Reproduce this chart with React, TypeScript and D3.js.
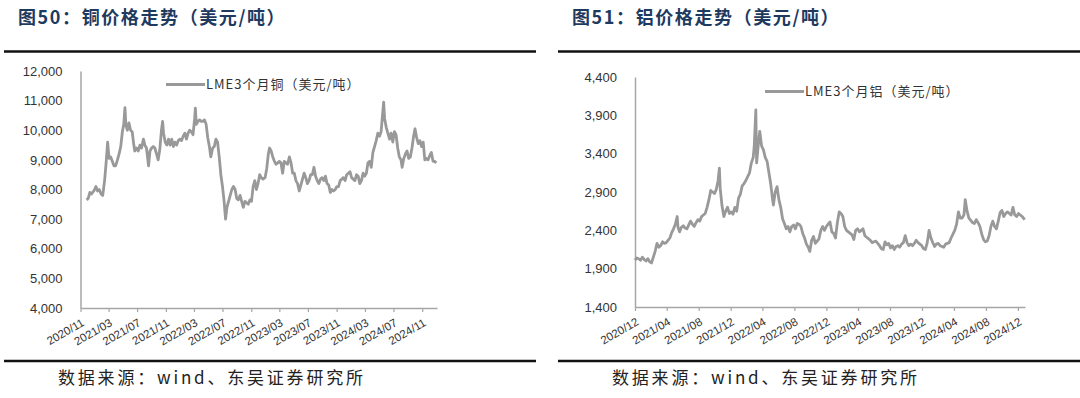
import React, { useRef, useEffect } from 'react';
import * as d3 from 'd3';

// text
const copperTitle = '图50：铜价格走势（美元/吨）';
const aluminumTitle = '图51：铝价格走势（美元/吨）';
const copperLegend = 'LME3个月铜（美元/吨）';
const aluminumLegend = 'LME3个月铝（美元/吨）';
const sourceNote = '数据来源：wind、东吴证券研究所';

// axis ticks
const copperXTicks = ['2020/11', '2021/03', '2021/07', '2021/11', '2022/03', '2022/07', '2022/11',
  '2023/03', '2023/07', '2023/11', '2024/03', '2024/07', '2024/11'];
const copperYTicks = [4000, 5000, 6000, 7000, 8000, 9000, 10000, 11000, 12000];
const aluminumXTicks = ['2020/12', '2021/04', '2021/08', '2021/12', '2022/04', '2022/08', '2022/12',
  '2023/04', '2023/08', '2023/12', '2024/04', '2024/08', '2024/12'];
const aluminumYTicks = [1400, 1900, 2400, 2900, 3400, 3900, 4400];

// LME 3M copper, USD/t
const copperSeries: [string, number][] = [
  ['2020-11-27', 7650], ['2020-12-04', 7700], ['2020-12-11', 7900], ['2020-12-18', 7850], ['2020-12-28', 7950],
  ['2021-01-06', 8100], ['2021-01-13', 7950], ['2021-01-20', 8000], ['2021-01-28', 7850], ['2021-02-04', 7800],
  ['2021-02-12', 8300], ['2021-02-19', 8950], ['2021-02-25', 9600], ['2021-03-03', 9050], ['2021-03-10', 9100],
  ['2021-03-17', 8950], ['2021-03-24', 8800], ['2021-03-31', 8800], ['2021-04-08', 9000], ['2021-04-15', 9200],
  ['2021-04-22', 9450], ['2021-04-29', 9950], ['2021-05-05', 10200], ['2021-05-10', 10760], ['2021-05-14', 10200],
  ['2021-05-20', 10000], ['2021-05-27', 10250], ['2021-06-03', 10000], ['2021-06-10', 9950], ['2021-06-17', 9500],
  ['2021-06-21', 9300], ['2021-06-28', 9400], ['2021-07-06', 9300], ['2021-07-13', 9500], ['2021-07-20', 9400],
  ['2021-07-28', 9700], ['2021-08-03', 9500], ['2021-08-10', 9400], ['2021-08-19', 8800], ['2021-08-25', 9300],
  ['2021-09-01', 9400], ['2021-09-08', 9450], ['2021-09-15', 9400], ['2021-09-22', 9200], ['2021-09-29', 9000],
  ['2021-10-06', 9350], ['2021-10-13', 10000], ['2021-10-18', 10300], ['2021-10-22', 9900], ['2021-10-29', 9600],
  ['2021-11-05', 9500], ['2021-11-12', 9700], ['2021-11-19', 9500], ['2021-11-26', 9700], ['2021-12-03', 9450],
  ['2021-12-10', 9600], ['2021-12-17', 9500], ['2021-12-24', 9650], ['2021-12-31', 9700], ['2022-01-07', 9650],
  ['2022-01-14', 9800], ['2022-01-21', 9900], ['2022-01-28', 9700], ['2022-02-04', 9900], ['2022-02-11', 10000],
  ['2022-02-18', 9950], ['2022-02-25', 9850], ['2022-03-04', 10400], ['2022-03-07', 10750], ['2022-03-11', 10200],
  ['2022-03-18', 10300], ['2022-03-25', 10350], ['2022-04-01', 10300], ['2022-04-08', 10300], ['2022-04-15', 10350],
  ['2022-04-22', 10200], ['2022-04-29', 9750], ['2022-05-06', 9450], ['2022-05-12', 9100], ['2022-05-20', 9400],
  ['2022-05-27', 9450], ['2022-06-03', 9700], ['2022-06-10', 9600], ['2022-06-17', 9100], ['2022-06-24', 8500],
  ['2022-07-01', 8100], ['2022-07-08', 7600], ['2022-07-14', 7000], ['2022-07-20', 7400], ['2022-07-27', 7600],
  ['2022-08-03', 7800], ['2022-08-10', 8000], ['2022-08-17', 8100], ['2022-08-24', 8000], ['2022-08-31', 7700],
  ['2022-09-07', 7650], ['2022-09-14', 7800], ['2022-09-21', 7600], ['2022-09-28', 7400], ['2022-10-05', 7600],
  ['2022-10-12', 7550], ['2022-10-19', 7500], ['2022-10-26', 7650], ['2022-11-02', 7600], ['2022-11-09', 8100],
  ['2022-11-16', 8300], ['2022-11-23', 8000], ['2022-11-30', 8200], ['2022-12-07', 8500], ['2022-12-14', 8400],
  ['2022-12-21', 8350], ['2022-12-30', 8400], ['2023-01-06', 8700], ['2023-01-13', 9200], ['2023-01-18', 9400],
  ['2023-01-25', 9300], ['2023-02-01', 9100], ['2023-02-08', 8950], ['2023-02-15', 8850], ['2023-02-22', 8900],
  ['2023-03-01', 8950], ['2023-03-08', 8900], ['2023-03-15', 8550], ['2023-03-22', 8950], ['2023-03-29', 8900],
  ['2023-04-05', 8850], ['2023-04-13', 9100], ['2023-04-20', 8900], ['2023-04-27', 8550], ['2023-05-04', 8550],
  ['2023-05-11', 8300], ['2023-05-18', 8200], ['2023-05-25', 7950], ['2023-06-01', 8150], ['2023-06-08', 8350],
  ['2023-06-15', 8550], ['2023-06-22', 8400], ['2023-06-29', 8200], ['2023-07-06', 8300], ['2023-07-13', 8500],
  ['2023-07-20', 8500], ['2023-07-27', 8750], ['2023-08-03', 8450], ['2023-08-10', 8300], ['2023-08-17', 8200],
  ['2023-08-24', 8350], ['2023-08-31', 8400], ['2023-09-07', 8300], ['2023-09-14', 8450], ['2023-09-21', 8200],
  ['2023-09-28', 8150], ['2023-10-05', 7900], ['2023-10-12', 8000], ['2023-10-19', 7950], ['2023-10-26', 8000],
  ['2023-11-02', 8100], ['2023-11-09', 8100], ['2023-11-16', 8300], ['2023-11-23', 8350], ['2023-11-30', 8400],
  ['2023-12-07', 8300], ['2023-12-14', 8500], ['2023-12-21', 8550], ['2023-12-28', 8600], ['2024-01-04', 8400],
  ['2024-01-11', 8350], ['2024-01-18', 8300], ['2024-01-25', 8500], ['2024-02-01', 8450], ['2024-02-08', 8200],
  ['2024-02-15', 8300], ['2024-02-22', 8550], ['2024-02-29', 8450], ['2024-03-07', 8550], ['2024-03-14', 8900],
  ['2024-03-21', 8950], ['2024-03-28', 8750], ['2024-04-04', 9250], ['2024-04-11', 9450], ['2024-04-18', 9650],
  ['2024-04-25', 9900], ['2024-05-02', 9800], ['2024-05-09', 9950], ['2024-05-15', 10500], ['2024-05-20', 10950],
  ['2024-05-24', 10400], ['2024-05-31', 10100], ['2024-06-07', 9900], ['2024-06-14', 9700], ['2024-06-21', 9900],
  ['2024-06-28', 9600], ['2024-07-05', 9950], ['2024-07-12', 9850], ['2024-07-19', 9400], ['2024-07-26', 9100],
  ['2024-08-02', 9000], ['2024-08-07', 8750], ['2024-08-14', 9050], ['2024-08-21', 9200], ['2024-08-28', 9300],
  ['2024-09-04', 9050], ['2024-09-11', 9100], ['2024-09-18', 9400], ['2024-09-25', 9800], ['2024-10-01', 10050],
  ['2024-10-08', 9750], ['2024-10-15', 9550], ['2024-10-22', 9650], ['2024-10-29', 9450], ['2024-11-05', 9600],
  ['2024-11-12', 9000], ['2024-11-19', 9050], ['2024-11-26', 9000], ['2024-12-03', 9150], ['2024-12-10', 9250],
  ['2024-12-17', 8950], ['2024-12-24', 8950], ['2024-12-31', 8900],
];

// LME 3M aluminium, USD/t
const aluminumSeries: [string, number][] = [
  ['2020-12-01', 2010], ['2020-12-08', 2040], ['2020-12-15', 2030], ['2020-12-22', 2010], ['2020-12-29', 2050],
  ['2021-01-05', 2020], ['2021-01-12', 2000], ['2021-01-19', 2030], ['2021-01-26', 1990], ['2021-02-02', 1975],
  ['2021-02-09', 2050], ['2021-02-16', 2130], ['2021-02-23', 2230], ['2021-03-02', 2180], ['2021-03-09', 2200],
  ['2021-03-16', 2250], ['2021-03-23', 2230], ['2021-03-30', 2240], ['2021-04-06', 2270], ['2021-04-13', 2300],
  ['2021-04-20', 2370], ['2021-04-27', 2420], ['2021-05-04', 2480], ['2021-05-11', 2580], ['2021-05-14', 2440],
  ['2021-05-20', 2380], ['2021-05-27', 2440], ['2021-06-03', 2460], ['2021-06-10', 2430], ['2021-06-17', 2420],
  ['2021-06-24', 2470], ['2021-07-01', 2520], ['2021-07-08', 2480], ['2021-07-15', 2450], ['2021-07-22', 2500],
  ['2021-07-29', 2540], ['2021-08-05', 2520], ['2021-08-12', 2580], ['2021-08-19', 2600], ['2021-08-26', 2620],
  ['2021-09-02', 2700], ['2021-09-09', 2800], ['2021-09-16', 2920], ['2021-09-23', 2900], ['2021-09-30', 2880],
  ['2021-10-07', 2930], ['2021-10-14', 3050], ['2021-10-19', 3210], ['2021-10-22', 2950], ['2021-10-29', 2720],
  ['2021-11-05', 2580], ['2021-11-12', 2650], ['2021-11-19', 2700], ['2021-11-26', 2620], ['2021-12-03', 2640],
  ['2021-12-10', 2610], ['2021-12-17', 2700], ['2021-12-24', 2650], ['2021-12-31', 2820], ['2022-01-07', 2870],
  ['2022-01-14', 2980], ['2022-01-21', 3010], ['2022-01-28', 3050], ['2022-02-04', 3100], ['2022-02-11', 3150],
  ['2022-02-18', 3280], ['2022-02-25', 3350], ['2022-03-01', 3500], ['2022-03-07', 3970], ['2022-03-10', 3280],
  ['2022-03-16', 3500], ['2022-03-22', 3690], ['2022-03-29', 3500], ['2022-04-05', 3450], ['2022-04-12', 3350],
  ['2022-04-19', 3300], ['2022-04-26', 3150], ['2022-05-03', 3000], ['2022-05-10', 2800], ['2022-05-13', 2730],
  ['2022-05-20', 2900], ['2022-05-27', 2970], ['2022-06-03', 2800], ['2022-06-10', 2700], ['2022-06-17', 2550],
  ['2022-06-24', 2490], ['2022-07-01', 2420], ['2022-07-08', 2450], ['2022-07-15', 2380], ['2022-07-22', 2450],
  ['2022-07-29', 2470], ['2022-08-05', 2420], ['2022-08-12', 2490], ['2022-08-19', 2480], ['2022-08-26', 2450],
  ['2022-09-02', 2360], ['2022-09-09', 2300], ['2022-09-16', 2220], ['2022-09-23', 2180], ['2022-09-29', 2125],
  ['2022-10-06', 2270], ['2022-10-13', 2320], ['2022-10-20', 2230], ['2022-10-27', 2260], ['2022-11-03', 2290],
  ['2022-11-10', 2400], ['2022-11-17', 2450], ['2022-11-24', 2400], ['2022-12-01', 2450], ['2022-12-08', 2480],
  ['2022-12-15', 2510], ['2022-12-22', 2380], ['2022-12-29', 2360], ['2023-01-05', 2300], ['2023-01-12', 2500],
  ['2023-01-19', 2640], ['2023-01-26', 2620], ['2023-02-02', 2580], ['2023-02-09', 2450], ['2023-02-16', 2400],
  ['2023-02-23', 2380], ['2023-03-02', 2360], ['2023-03-09', 2340], ['2023-03-16', 2280], ['2023-03-23', 2400],
  ['2023-03-30', 2420], ['2023-04-06', 2380], ['2023-04-13', 2400], ['2023-04-20', 2420], ['2023-04-27', 2330],
  ['2023-05-04', 2310], ['2023-05-11', 2290], ['2023-05-18', 2270], ['2023-05-25', 2240], ['2023-06-01', 2250],
  ['2023-06-08', 2260], ['2023-06-15', 2230], ['2023-06-22', 2200], ['2023-06-29', 2160], ['2023-07-06', 2150],
  ['2023-07-13', 2250], ['2023-07-20', 2210], ['2023-07-27', 2230], ['2023-08-03', 2170], ['2023-08-10', 2200],
  ['2023-08-17', 2150], ['2023-08-24', 2190], ['2023-08-31', 2200], ['2023-09-07', 2180], ['2023-09-14', 2220],
  ['2023-09-21', 2240], ['2023-09-28', 2330], ['2023-10-05', 2240], ['2023-10-12', 2200], ['2023-10-19', 2220],
  ['2023-10-26', 2200], ['2023-11-02', 2230], ['2023-11-09', 2270], ['2023-11-16', 2240], ['2023-11-23', 2220],
  ['2023-11-30', 2200], ['2023-12-07', 2160], ['2023-12-14', 2150], ['2023-12-21', 2240], ['2023-12-28', 2400],
  ['2024-01-04', 2300], ['2024-01-11', 2240], ['2024-01-18', 2190], ['2024-01-25', 2220], ['2024-02-01', 2230],
  ['2024-02-08', 2200], ['2024-02-15', 2190], ['2024-02-22', 2180], ['2024-02-29', 2220], ['2024-03-07', 2230],
  ['2024-03-14', 2240], ['2024-03-21', 2300], ['2024-03-28', 2350], ['2024-04-04', 2400], ['2024-04-11', 2480],
  ['2024-04-18', 2640], ['2024-04-25', 2560], ['2024-05-02', 2560], ['2024-05-09', 2600], ['2024-05-14', 2800],
  ['2024-05-21', 2650], ['2024-05-28', 2560], ['2024-06-04', 2530], ['2024-06-11', 2500], ['2024-06-18', 2490],
  ['2024-06-25', 2540], ['2024-07-02', 2500], ['2024-07-09', 2450], ['2024-07-16', 2350], ['2024-07-23', 2280],
  ['2024-07-30', 2250], ['2024-08-06', 2260], ['2024-08-13', 2330], ['2024-08-20', 2450], ['2024-08-27', 2520],
  ['2024-09-03', 2450], ['2024-09-10', 2420], ['2024-09-17', 2520], ['2024-09-24', 2630], ['2024-10-01', 2660],
  ['2024-10-08', 2580], ['2024-10-15', 2620], ['2024-10-22', 2640], ['2024-10-29', 2620], ['2024-11-05', 2600],
  ['2024-11-12', 2700], ['2024-11-19', 2600], ['2024-11-26', 2580], ['2024-12-03', 2620], ['2024-12-10', 2600],
  ['2024-12-17', 2580], ['2024-12-27', 2540],
];

interface PanelConfig {
  title: string;
  legend: string;
  series: [string, number][];
  xTicks: string[];
  yTicks: number[];
  xDomain: [string, string];
  left: number;     // panel left edge
  right: number;    // panel right edge
  plot: { x0: number; x1: number; y0: number; y1: number };
  legendX: number;
  legendY: number;
}

const panels: PanelConfig[] = [
  {
    title: copperTitle, legend: copperLegend, series: copperSeries,
    xTicks: copperXTicks, yTicks: copperYTicks, xDomain: ['2020-11-01', '2025-01-03'],
    left: 4, right: 536,
    plot: { x0: 80.5, x1: 437, y0: 71, y1: 308 },
    legendX: 166, legendY: 84.5,
  },
  {
    title: aluminumTitle, legend: aluminumLegend, series: aluminumSeries,
    xTicks: aluminumXTicks, yTicks: aluminumYTicks, xDomain: ['2020-12-01', '2024-12-28'],
    left: 558, right: 1080,
    plot: { x0: 635, x1: 1025, y0: 77, y1: 307 },
    legendX: 765, legendY: 91.5,
  },
];

const parseDay = d3.timeParse('%Y-%m-%d');
const parseMonth = d3.timeParse('%Y/%m');
const cjkFont = '"Noto Sans CJK SC", sans-serif';
const numFont = '"Liberation Sans", Arial, sans-serif';

function drawPanel(svg: d3.Selection<SVGSVGElement, unknown, null, undefined>, p: PanelConfig) {
  const g = svg.append('g');

  // title + rules
  g.append('text')
    .attr('x', p.left + 14)
    .attr('y', 24)
    .attr('font-family', cjkFont)
    .attr('font-weight', 700)
    .attr('font-size', 18)
    .attr('letter-spacing', 1.6)
    .attr('fill', '#1f3a5f')
    .text(p.title);

  g.append('line')
    .attr('x1', p.left).attr('x2', p.right)
    .attr('y1', 51.5).attr('y2', 51.5)
    .attr('stroke', '#111').attr('stroke-width', 2.5);

  g.append('line')
    .attr('x1', p.left).attr('x2', p.right)
    .attr('y1', 361).attr('y2', 361)
    .attr('stroke', '#111').attr('stroke-width', 2.5);

  g.append('text')
    .attr('x', p.left + 54)
    .attr('y', 384)
    .attr('font-family', cjkFont)
    .attr('font-size', 17)
    .attr('letter-spacing', 2.8)
    .attr('fill', '#222')
    .text(sourceNote);

  const data = p.series.map(([d, v]) => ({ date: parseDay(d) as Date, value: v }));

  const xScale = d3.scaleTime()
    .domain(p.xDomain.map(d => parseDay(d) as Date) as [Date, Date])
    .range([p.plot.x0, p.plot.x1]);

  const yScale = d3.scaleLinear()
    .domain([p.yTicks[0], p.yTicks[p.yTicks.length - 1]])
    .range([p.plot.y1, p.plot.y0]);

  // y axis (line only, labels on the left)
  const yAxis = g.append('g')
    .attr('transform', `translate(${p.plot.x0},0)`)
    .call(d3.axisLeft(yScale).tickValues(p.yTicks).tickSize(0).tickPadding(18)
      .tickFormat(d => d3.format(',')(d as number)));
  yAxis.select('.domain').attr('stroke', '#a6a6a6').attr('stroke-width', 1.5);
  yAxis.selectAll('text')
    .attr('font-family', numFont)
    .attr('font-size', 13)
    .attr('fill', '#333');

  // x axis
  const xAxis = g.append('g')
    .attr('transform', `translate(0,${p.plot.y1})`)
    .call(d3.axisBottom(xScale)
      .tickValues(p.xTicks.map(t => parseMonth(t) as Date))
      .tickSizeInner(4).tickSizeOuter(0)
      .tickFormat(d => d3.timeFormat('%Y/%m')(d as Date)));
  xAxis.select('.domain').attr('stroke', '#a6a6a6').attr('stroke-width', 1.5);
  xAxis.selectAll('.tick line').attr('stroke', '#a6a6a6').attr('stroke-width', 1.2);
  xAxis.selectAll('text')
    .attr('font-family', numFont)
    .attr('font-size', 11.5)
    .attr('fill', '#333')
    .attr('text-anchor', 'end')
    .attr('dy', 0)
    .attr('y', 0)
    .attr('transform', 'translate(4,17) rotate(-30)');

  // series line
  const line = d3.line<{ date: Date; value: number }>()
    .x(d => xScale(d.date))
    .y(d => yScale(d.value));

  g.append('path')
    .datum(data)
    .attr('fill', 'none')
    .attr('stroke', '#999999')
    .attr('stroke-width', 2.8)
    .attr('stroke-linejoin', 'round')
    .attr('d', line);

  // legend
  g.append('line')
    .attr('x1', p.legendX).attr('x2', p.legendX + 39)
    .attr('y1', p.legendY).attr('y2', p.legendY)
    .attr('stroke', '#999999').attr('stroke-width', 2.8);

  g.append('text')
    .attr('x', p.legendX + 40)
    .attr('y', p.legendY + 4.5)
    .attr('font-family', cjkFont)
    .attr('font-size', 13)
    .attr('letter-spacing', 1)
    .attr('fill', '#333')
    .text(p.legend);
}

const App: React.FC = () => {
  const svgRef = useRef<SVGSVGElement | null>(null);

  useEffect(() => {
    if (!svgRef.current) return;
    const svg = d3.select(svgRef.current);
    svg.selectAll('*').remove();

    svg.append('rect')
      .attr('width', 1080).attr('height', 398)
      .attr('fill', '#ffffff');

    panels.forEach(p => drawPanel(svg, p));
  }, []);

  return (
    <div style={{ position: 'absolute', left: 0, top: 0 }}>
      <svg ref={svgRef} width={1080} height={398} style={{ display: 'block' }} />
    </div>
  );
};

export default App;
